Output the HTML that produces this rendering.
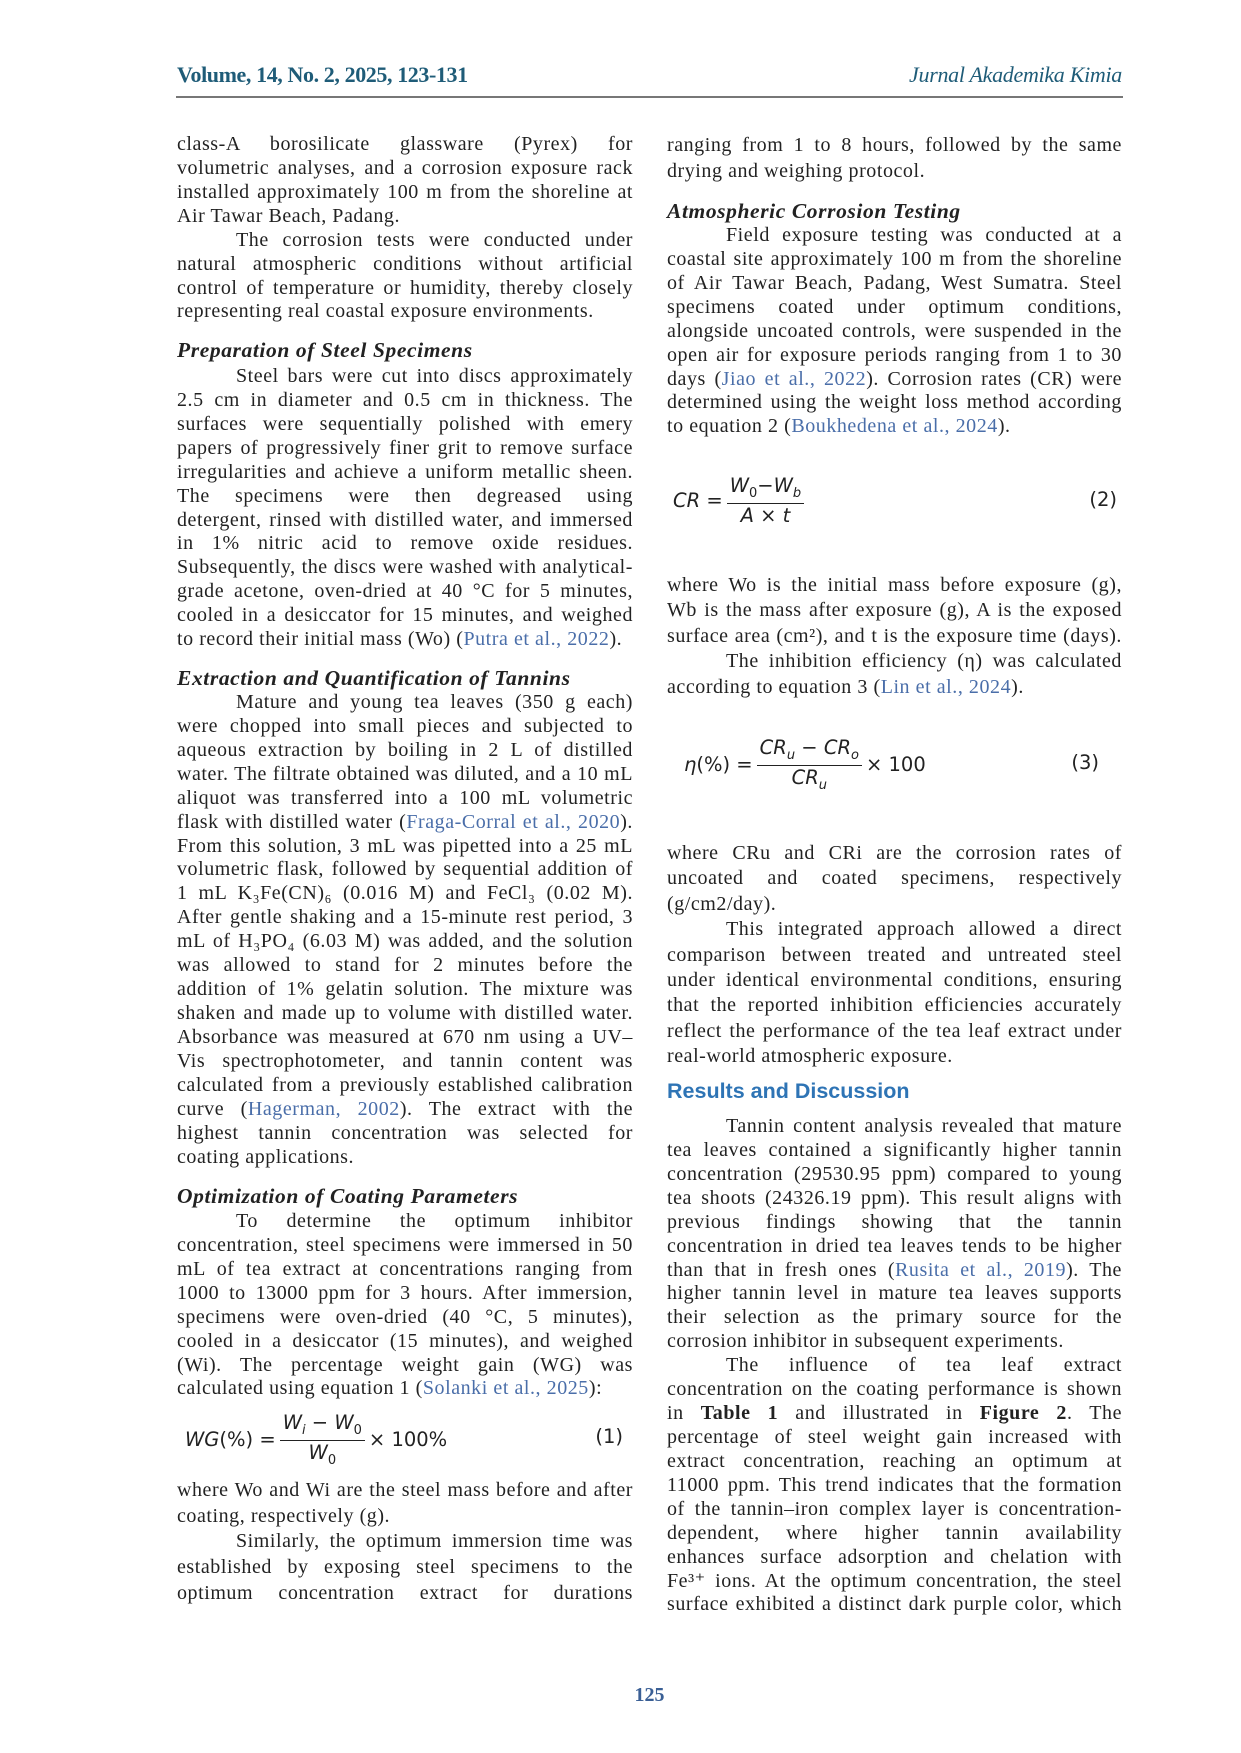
<!DOCTYPE html>
<html><head><meta charset="utf-8"><style>
body{margin:0;background:#fff}
#p{position:relative;width:1241px;height:1753px;overflow:hidden;font-family:"Liberation Serif",serif;color:#222}
.b{position:absolute;font-size:20px;letter-spacing:0.55px}
.L{left:177px;width:456px}
.R{left:667px;width:455px}
.b div{height:23.93px;line-height:23.93px;text-align:justify;text-align-last:justify}
.b div.e{text-align-last:left}
.b div.i{padding-left:59px}
.h{position:absolute;font-weight:bold;font-style:italic;font-size:21.5px;letter-spacing:0.6px}
a{color:#4a6ea9;text-decoration:none}
.eq{position:absolute;font-family:"DejaVu Sans",sans-serif;font-size:19.5px;color:#222}
.fr{display:inline-block;vertical-align:middle;text-align:center;margin:0 4px}
.fr span{display:block;padding:0 3px}
.fr .n{border-bottom:1.3px solid #222;padding-bottom:2px}
.it{font-style:italic}
</style></head><body><div id="p">
<div style="position:absolute;left:177px;top:62px;font-size:22px;font-weight:bold;color:#1f5c78;letter-spacing:-0.4px">Volume, 14, No. 2, 2025, 123-131</div>
<div style="position:absolute;right:119px;top:62px;font-size:22px;font-style:italic;color:#1f5c78;letter-spacing:-0.3px">Jurnal Akademika Kimia</div>
<div style="position:absolute;left:176px;top:96px;width:947px;height:2px;background:#777"></div>

<div class="b L" style="top:133px">
<div>class-A borosilicate glassware (Pyrex) for</div>
<div>volumetric analyses, and a corrosion exposure rack</div>
<div>installed approximately 100 m from the shoreline at</div>
<div class="e">Air Tawar Beach, Padang.</div>
<div class="i">The corrosion tests were conducted under</div>
<div>natural atmospheric conditions without artificial</div>
<div>control of temperature or humidity, thereby closely</div>
<div class="e">representing real coastal exposure environments.</div>
</div>
<div class="h" style="left:177px;top:338px">Preparation of Steel Specimens</div>
<div class="b L" style="top:365px">
<div class="i">Steel bars were cut into discs approximately</div>
<div>2.5 cm in diameter and 0.5 cm in thickness. The</div>
<div>surfaces were sequentially polished with emery</div>
<div>papers of progressively finer grit to remove surface</div>
<div>irregularities and achieve a uniform metallic sheen.</div>
<div>The specimens were then degreased using</div>
<div>detergent, rinsed with distilled water, and immersed</div>
<div>in 1% nitric acid to remove oxide residues.</div>
<div>Subsequently, the discs were washed with analytical-</div>
<div>grade acetone, oven-dried at 40 °C for 5 minutes,</div>
<div>cooled in a desiccator for 15 minutes, and weighed</div>
<div class="e">to record their initial mass (Wo) (<a>Putra et al., 2022</a>).</div>
</div>
<div class="h" style="left:177px;top:666px">Extraction and Quantification of Tannins</div>
<div class="b L" style="top:691px">
<div class="i">Mature and young tea leaves (350 g each)</div>
<div>were chopped into small pieces and subjected to</div>
<div>aqueous extraction by boiling in 2 L of distilled</div>
<div>water. The filtrate obtained was diluted, and a 10 mL</div>
<div>aliquot was transferred into a 100 mL volumetric</div>
<div>flask with distilled water (<a>Fraga-Corral et al., 2020</a>).</div>
<div>From this solution, 3 mL was pipetted into a 25 mL</div>
<div>volumetric flask, followed by sequential addition of</div>
<div>1 mL K₃Fe(CN)₆ (0.016 M) and FeCl₃ (0.02 M).</div>
<div>After gentle shaking and a 15-minute rest period, 3</div>
<div>mL of H₃PO₄ (6.03 M) was added, and the solution</div>
<div>was allowed to stand for 2 minutes before the</div>
<div>addition of 1% gelatin solution. The mixture was</div>
<div>shaken and made up to volume with distilled water.</div>
<div>Absorbance was measured at 670 nm using a UV–</div>
<div>Vis spectrophotometer, and tannin content was</div>
<div>calculated from a previously established calibration</div>
<div>curve (<a>Hagerman, 2002</a>). The extract with the</div>
<div>highest tannin concentration was selected for</div>
<div class="e">coating applications.</div>
</div>
<div class="h" style="left:177px;top:1184px">Optimization of Coating Parameters</div>
<div class="b L" style="top:1210px">
<div class="i">To determine the optimum inhibitor</div>
<div>concentration, steel specimens were immersed in 50</div>
<div>mL of tea extract at concentrations ranging from</div>
<div>1000 to 13000 ppm for 3 hours. After immersion,</div>
<div>specimens were oven-dried (40 °C, 5 minutes),</div>
<div>cooled in a desiccator (15 minutes), and weighed</div>
<div>(Wi). The percentage weight gain (WG) was</div>
<div class="e">calculated using equation 1 (<a>Solanki et al., 2025</a>):</div>
</div>
<div class="eq" style="left:185px;top:1411px;width:448px;height:56px">
<span class="it" style="vertical-align:middle">WG</span><span style="vertical-align:middle">(%) =</span><span class="fr"><span class="n"><i>W<sub style="font-size:13px">i</sub></i> − <i>W</i><sub style="font-size:13px">0</sub></span><span><i>W</i><sub style="font-size:13px">0</sub></span></span><span style="vertical-align:middle">× 100%</span>
<span style="position:absolute;right:10px;top:14px">(1)</span>
</div>
<div class="b L" style="top:1478px">
<div style="height:25.7px;line-height:25.7px">where Wo and Wi are the steel mass before and after</div>
<div class="e" style="height:25.7px;line-height:25.7px">coating, respectively (g).</div>
<div class="i" style="height:25.7px;line-height:25.7px">Similarly, the optimum immersion time was</div>
<div style="height:25.7px;line-height:25.7px">established by exposing steel specimens to the</div>
<div style="height:25.7px;line-height:25.7px">optimum concentration extract for durations</div>
</div>

<div class="b R" style="top:133px">
<div style="height:25.5px;line-height:25.5px">ranging from 1 to 8 hours, followed by the same</div>
<div class="e" style="height:25.5px;line-height:25.5px">drying and weighing protocol.</div>
</div>
<div class="h" style="left:667px;top:199px">Atmospheric Corrosion Testing</div>
<div class="b R" style="top:224px">
<div class="i">Field exposure testing was conducted at a</div>
<div>coastal site approximately 100 m from the shoreline</div>
<div>of Air Tawar Beach, Padang, West Sumatra. Steel</div>
<div>specimens coated under optimum conditions,</div>
<div>alongside uncoated controls, were suspended in the</div>
<div>open air for exposure periods ranging from 1 to 30</div>
<div>days (<a>Jiao et al., 2022</a>). Corrosion rates (CR) were</div>
<div>determined using the weight loss method according</div>
<div class="e">to equation 2 (<a>Boukhedena et al., 2024</a>).</div>
</div>
<div class="eq" style="left:673px;top:474px;width:449px;height:56px">
<span class="it" style="vertical-align:middle">CR</span><span style="vertical-align:middle"> =</span><span class="fr"><span class="n"><i>W</i><sub style="font-size:13px">0</sub>−<i>W<sub style="font-size:13px">b</sub></i></span><span><i>A</i> × <i>t</i></span></span>
<span style="position:absolute;right:5px;top:14px">(2)</span>
</div>
<div class="b R" style="top:573px">
<div style="height:25.4px;line-height:25.4px">where Wo is the initial mass before exposure (g),</div>
<div style="height:25.4px;line-height:25.4px">Wb is the mass after exposure (g), A is the exposed</div>
<div style="height:25.4px;line-height:25.4px">surface area (cm²), and t is the exposure time (days).</div>
<div class="i" style="height:25.4px;line-height:25.4px">The inhibition efficiency (η) was calculated</div>
<div class="e" style="height:25.4px;line-height:25.4px">according to equation 3 (<a>Lin et al., 2024</a>).</div>
</div>
<div class="eq" style="left:684px;top:736px;width:420px;height:58px">
<span class="it" style="vertical-align:middle">η</span><span style="vertical-align:middle">(%) =</span><span class="fr"><span class="n"><i>CR<sub style="font-size:13px">u</sub></i> − <i>CR<sub style="font-size:13px">o</sub></i></span><span><i>CR<sub style="font-size:13px">u</sub></i></span></span><span style="vertical-align:middle">× 100</span>
<span style="position:absolute;right:5px;top:15px">(3)</span>
</div>
<div class="b R" style="top:841px">
<div style="height:25.4px;line-height:25.4px">where CRu and CRi are the corrosion rates of</div>
<div style="height:25.4px;line-height:25.4px">uncoated and coated specimens, respectively</div>
<div class="e" style="height:25.4px;line-height:25.4px">(g/cm2/day).</div>
<div class="i" style="height:25.4px;line-height:25.4px">This integrated approach allowed a direct</div>
<div style="height:25.4px;line-height:25.4px">comparison between treated and untreated steel</div>
<div style="height:25.4px;line-height:25.4px">under identical environmental conditions, ensuring</div>
<div style="height:25.4px;line-height:25.4px">that the reported inhibition efficiencies accurately</div>
<div style="height:25.4px;line-height:25.4px">reflect the performance of the tea leaf extract under</div>
<div class="e" style="height:25.4px;line-height:25.4px">real-world atmospheric exposure.</div>
</div>
<div style="position:absolute;left:667px;top:1079px;font-family:'Liberation Sans',sans-serif;font-weight:bold;font-size:21.5px;color:#2e74b5">Results and Discussion</div>
<div class="b R" style="top:1115px">
<div class="i">Tannin content analysis revealed that mature</div>
<div>tea leaves contained a significantly higher tannin</div>
<div>concentration (29530.95 ppm) compared to young</div>
<div>tea shoots (24326.19 ppm). This result aligns with</div>
<div>previous findings showing that the tannin</div>
<div>concentration in dried tea leaves tends to be higher</div>
<div>than that in fresh ones (<a>Rusita et al., 2019</a>). The</div>
<div>higher tannin level in mature tea leaves supports</div>
<div>their selection as the primary source for the</div>
<div class="e">corrosion inhibitor in subsequent experiments.</div>
<div class="i">The influence of tea leaf extract</div>
<div>concentration on the coating performance is shown</div>
<div>in <b>Table 1</b> and illustrated in <b>Figure 2</b>. The</div>
<div>percentage of steel weight gain increased with</div>
<div>extract concentration, reaching an optimum at</div>
<div>11000 ppm. This trend indicates that the formation</div>
<div>of the tannin–iron complex layer is concentration-</div>
<div>dependent, where higher tannin availability</div>
<div>enhances surface adsorption and chelation with</div>
<div>Fe³⁺ ions. At the optimum concentration, the steel</div>
<div>surface exhibited a distinct dark purple color, which</div>
</div>
<div style="position:absolute;left:0;width:1299px;text-align:center;top:1684px;font-weight:bold;font-size:20px;color:#3a5f95">125</div>
</div></body></html>
